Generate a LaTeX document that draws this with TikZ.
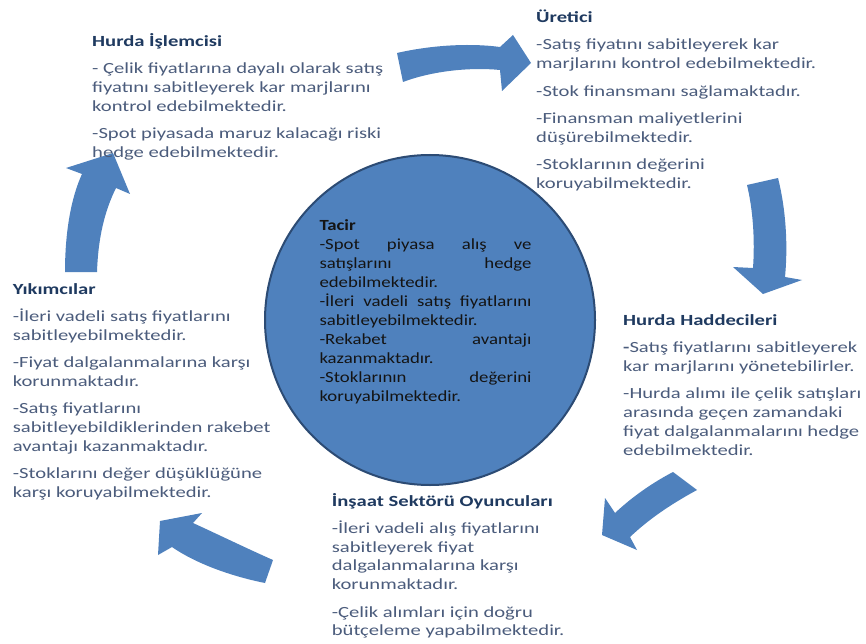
\documentclass[tikz,border=0pt]{standalone}
\usepackage{fontspec}
\setmainfont{Carlito}[FakeStretch=1.33]
\newfontfamily\tacirfont{Carlito}[FakeStretch=1.21]
\definecolor{arrowblue}{HTML}{4F81BD}
\definecolor{circborder}{HTML}{2C4B74}
\definecolor{bodycol}{HTML}{4B5C7C}
\definecolor{headcol}{HTML}{1F3A60}
\definecolor{tacircol}{HTML}{141414}
\newcommand{\hd}[1]{\textbf{\color{headcol}#1}}
\newcommand{\jl}[1]{\makebox[212pt][s]{#1}}
\tikzset{
  blk/.style={fill=arrowblue, draw=none},
  txt/.style={anchor=base west, inner sep=0pt, align=left, text=bodycol,
    font=\fontsize{15.5}{18.7}\selectfont},
  tacirtxt/.style={anchor=base west, inner sep=0pt, align=left, text=tacircol,
    font=\tacirfont\fontsize{15.5}{19.07}\selectfont},
}
\begin{document}
\begin{tikzpicture}[x=1pt,y=-1pt]
\useasboundingbox[fill=white] (0,0) rectangle (866,644);

% central circle
\node[circle, minimum size=330pt, inner sep=0pt, fill=arrowblue, draw=circborder, line width=2pt] (tacir) at (430,320) {};

% block arrows
\fill[blk] (397,53) .. controls (432,45) and (470,43) .. (500,47) -- (513,35) -- (531,63) -- (502,91) -- (500,70) .. controls (470,67) and (432,71) .. (403,82) -- cycle;
\fill[blk] (747,185) -- (778,178) .. controls (786,210) and (788,245) .. (785,277) -- (802,280) -- (763,294) -- (733,267) -- (753,268) .. controls (755,240) and (753,210) .. (747,185) -- cycle;
\fill[blk] (673,472) .. controls (652,483) and (632,497) .. (615,513) -- (605,498) -- (602,535) -- (637,550) -- (630,537) .. controls (650,518) and (673,503) .. (697,490) -- cycle;
\fill[blk] (273,560) .. controls (248,549) and (215,533) .. (193,523) -- (202,513) -- (160,521) -- (158,555) -- (172,547) .. controls (195,563) and (230,576) .. (265,583) -- cycle;
\fill[blk] (65,272) .. controls (65,232) and (71,198) .. (82,174) -- (66,168) -- (113,153) -- (130,194) -- (116,188) .. controls (104,212) and (98,240) .. (97,272) -- cycle;

% text blocks (anchored at the baseline of their last line)
\node[txt] (hurdaislem) at (92,157.3) {\hd{Hurda İşlemcisi}\\[8.7pt]
- Çelik fiyatlarına dayalı olarak satış\\
fiyatını sabitleyerek kar marjlarını\\
kontrol edebilmektedir.\\[8.7pt]
-Spot piyasada maruz kalacağı riski\\
hedge edebilmektedir.};

\node[txt] (uretici) at (536,188.3) {\hd{Üretici}\\[8.7pt]
-Satış fiyatını sabitleyerek kar\\
marjlarını kontrol edebilmektedir.\\[8.7pt]
-Stok finansmanı sağlamaktadır.\\[8.7pt]
-Finansman maliyetlerini\\
düşürebilmektedir.\\[8.7pt]
-Stoklarının değerini\\
koruyabilmektedir.};

\node[txt] (haddeci) at (623,455) {\hd{Hurda Haddecileri}\\[8.7pt]
\textbf{-}Satış fiyatlarını sabitleyerek\\
kar marjlarını yönetebilirler.\\[8.7pt]
-Hurda alımı ile çelik satışları\\
arasında geçen zamandaki\\
fiyat dalgalanmalarını hedge\\
edebilmektedir.};

\node[txt] (insaat) at (331.7,635.7) {\hd{İnşaat Sektörü Oyuncuları}\\[8.7pt]
-İleri vadeli alış fiyatlarını\\
sabitleyerek fiyat\\
dalgalanmalarına karşı\\
korunmaktadır.\\[8.7pt]
-Çelik alımları için doğru\\
bütçeleme yapabilmektedir.};

\node[txt] (yikimci) at (12.7,497.3) {\hd{Yıkımcılar}\\[8.7pt]
-İleri vadeli satış fiyatlarını\\
sabitleyebilmektedir.\\[8.7pt]
-Fiyat dalgalanmalarına karşı\\
korunmaktadır.\\[8.7pt]
-Satış fiyatlarını\\
sabitleyebildiklerinden rakebet\\
avantajı kazanmaktadır.\\[8.7pt]
-Stoklarını değer düşüklüğüne\\
karşı koruyabilmektedir.};

\node[tacirtxt] (tacirtext) at (319.3,401.7) {\textbf{Tacir}\\
\jl{-Spot piyasa alış ve}\\
\jl{satışlarını hedge}\\
edebilmektedir.\\
\jl{-İleri vadeli satış fiyatlarını}\\
sabitleyebilmektedir.\\
\jl{-Rekabet avantajı}\\
kazanmaktadır.\\
\jl{-Stoklarının değerini}\\
koruyabilmektedir.};
\end{tikzpicture}
\end{document}
